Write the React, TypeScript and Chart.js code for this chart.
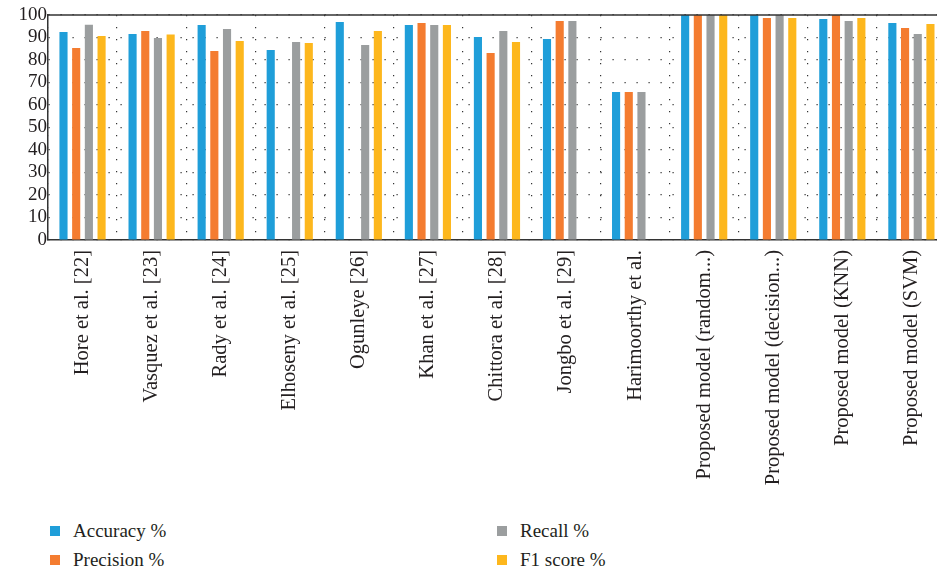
import React, { useEffect, useRef } from "react";
import { Chart, registerables } from "chart.js";

Chart.register(...registerables);

const categories = [
  "Hore et al. [22]",
  "Vasquez et al. [23]",
  "Rady et al. [24]",
  "Elhoseny et al. [25]",
  "Ogunleye [26]",
  "Khan et al. [27]",
  "Chittora et al. [28]",
  "Jongbo et al. [29]",
  "Harimoorthy et al.",
  "Proposed model (random...)",
  "Proposed model (decision...)",
  "Proposed model (KNN)",
  "Proposed model (SVM)",
];

const accuracy = [92.4, 91.6, 95.6, 84.4, 96.9, 95.6, 90.2, 89.3, 65.8, 100, 100, 98.2, 96.4];
const precision = [85.3, 92.9, 84.0, null, null, 96.4, 83.1, 97.3, 65.8, 100, 98.7, 100, 94.2];
const recall = [95.7, 89.8, 93.8, 88.0, 86.7, 95.6, 92.9, 97.3, 65.8, 100, 100, 97.3, 91.6];
const f1Score = [90.7, 91.3, 88.4, 87.6, 92.9, 95.6, 88.0, null, null, 100, 98.7, 98.7, 96.0];

const seriesLabels = ["Accuracy %", "Precision %", "Recall %", "F1 score %"];
const seriesColors = ["#1F9ED9", "#F47C30", "#9B9E9F", "#FDB71D"];
const seriesData = [accuracy, precision, recall, f1Score];

const yMin = 0;
const yMax = 100;
const yStep = 10;

const FONT = "Liberation Serif";
const TEXT = "#231F20";

const topBorder = {
  id: "topBorder",
  afterDatasetsDraw(chart: any) {
    const { ctx, chartArea } = chart;
    ctx.save();
    ctx.strokeStyle = "#333";
    ctx.lineWidth = 1.5;
    ctx.beginPath();
    ctx.moveTo(chartArea.left, chartArea.top);
    ctx.lineTo(chartArea.right, chartArea.top);
    ctx.stroke();
    ctx.restore();
  },
};

export default function App() {
  const ref = useRef<HTMLCanvasElement | null>(null);

  useEffect(() => {
    if (!ref.current) return;
    const chart = new Chart(ref.current, {
      type: "bar",
      data: {
        labels: categories,
        datasets: seriesData.map((d, i) => ({
          label: seriesLabels[i],
          data: d as any,
          backgroundColor: seriesColors[i],
          borderWidth: 0,
          barPercentage: 0.64,
          categoryPercentage: 0.735,
        })),
      },
      options: {
        responsive: false,
        animation: false,
        layout: { padding: { top: 15, left: 0, right: 0, bottom: 0 } },
        plugins: {
          legend: { display: false },
          tooltip: { enabled: false },
        },
        scales: {
          x: {
            grid: {
              display: true,
              drawOnChartArea: true,
              drawTicks: false,
              color: "#333",
              lineWidth: 1.2,
              offset: true,
            },
            border: { display: true, color: "#333", width: 1.5, dash: [1.2, 10.8] },
            ticks: {
              autoSkip: false,
              minRotation: 90,
              maxRotation: 90,
              padding: 10,
              color: TEXT,
              font: { family: FONT, size: 20.5 },
            },
            afterFit: (s: any) => {
              s.height = 260;
            },
          },
          y: {
            min: yMin,
            max: yMax,
            ticks: {
              stepSize: yStep,
              autoSkip: false,
              padding: 1,
              color: TEXT,
              font: { family: FONT, size: 19 },
            },
            grid: {
              drawTicks: false,
              color: "#333",
              lineWidth: 1.2,
            },
            border: { display: true, color: "#333", width: 1.5, dash: [1.2, 10.8] },
            afterFit: (s: any) => {
              s.width = 48;
            },
          },
        },
      },
      plugins: [topBorder],
    });
    return () => chart.destroy();
  }, []);

  return (
    <div
      style={{
        position: "absolute",
        left: 0,
        top: 0,
        width: 937,
        height: 574,
        overflow: "hidden",
        background: "#fff",
        fontFamily: "Liberation Serif, serif",
      }}
    >
      <canvas ref={ref} width={946} height={500} style={{ display: "block" }} />
      {seriesLabels.map((lab, i) => {
        const col = Math.floor(i / 2);
        const row = i % 2;
        const sx = col === 0 ? 50 : 497;
        const cy = row === 0 ? 531 : 560;
        return (
          <div key={lab}>
            <div
              style={{
                position: "absolute",
                left: sx,
                top: cy - 5,
                width: 10,
                height: 10,
                background: seriesColors[i],
              }}
            />
            <span
              style={{
                position: "absolute",
                left: sx + 23,
                top: cy - 12,
                height: 24,
                lineHeight: "24px",
                fontFamily: "Liberation Serif, serif",
                fontSize: 19,
                color: TEXT,
                whiteSpace: "nowrap",
              }}
            >
              {lab}
            </span>
          </div>
        );
      })}
    </div>
  );
}
